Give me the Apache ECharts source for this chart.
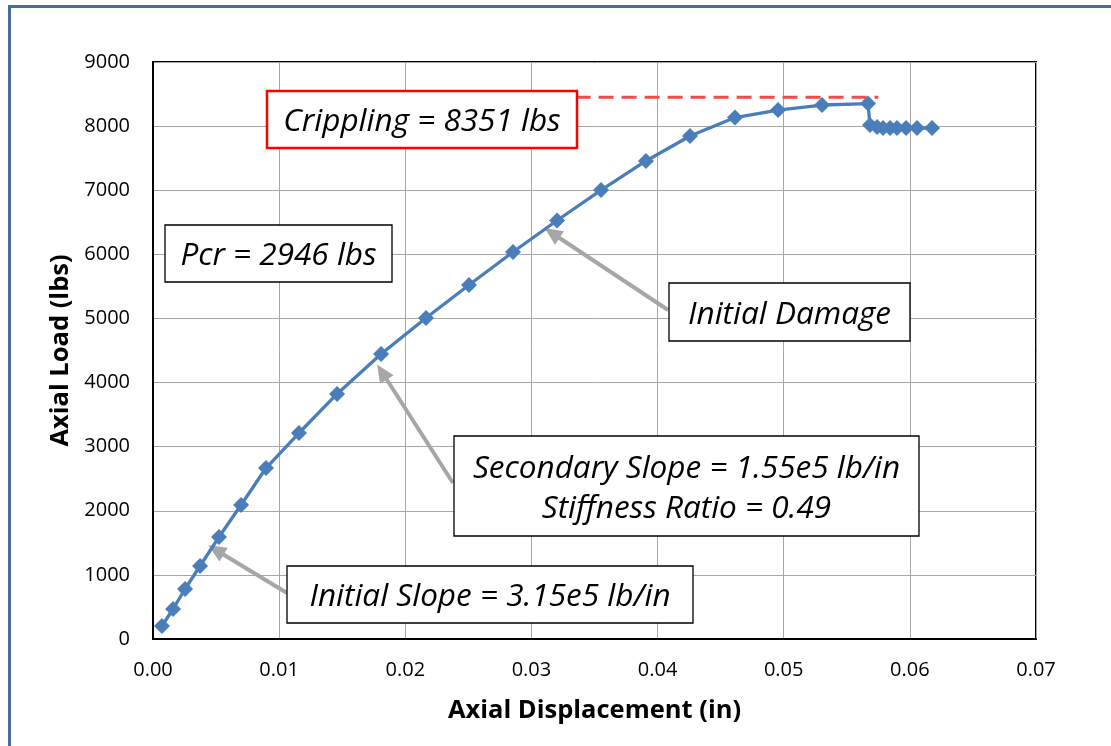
<!DOCTYPE html>
<html>
<head>
<meta charset="utf-8">
<script src="https://cdn.jsdelivr.net/npm/echarts@6/dist/echarts.min.js"></script>
<style>html,body{margin:0;padding:0;background:#fff}#c{width:1111px;height:746px}</style>
</head>
<body>
<div id="c"></div>
<script>
// Data
const dispIn = [0.00071,0.00159,0.00254,0.00373,0.00523,0.00698,0.00896,0.01157,0.01459,0.01808,0.02164,0.02505,0.02854,0.03203,0.03552,0.03908,0.04257,0.04614,0.04955,0.05304,0.05668,0.05684,0.05740,0.05787,0.05843,0.05898,0.05970,0.06057,0.06176];
const loadLbs = [203,468,780,1139,1591,2090,2667,3213,3822,4445,5007,5522,6036,6528,7003,7456,7846,8134,8251,8329,8351,8017,7986,7970,7970,7970,7970,7970,7970];
const cripplingLineX = [0.0335,0.0575];
const cripplingLineY = 8450;
const xTicks = ['0.00','0.01','0.02','0.03','0.04','0.05','0.06','0.07'];
const yTicks = ['0','1000','2000','3000','4000','5000','6000','7000','8000','9000'];
// annotation arrows [from, to] in data units
const arrows = [
  [[0.04083,5132],[0.03163,6333]],
  [[0.02378,2433],[0.01815,4165]],
  [[0.01062,717],[0.00499,1388]]
];

const chart = echarts.init(document.getElementById('c'));
const FONT = '"Open Sans", Lato, sans-serif';
const boxFont = 'italic 31.5px ' + FONT;

function box(x, y, w, h, lines, stroke, lw) {
  const els = [{
    type: 'rect', z: 100,
    shape: {x: x, y: y, width: w, height: h},
    style: {fill: '#fff', stroke: stroke, lineWidth: lw}
  }];
  const lh = 40;
  lines.forEach((t, i) => {
    els.push({
      type: 'text', z: 101,
      style: {
        text: t, x: x + w / 2, y: y + h / 2 + 3 + (i - (lines.length - 1) / 2) * lh,
        align: 'center', verticalAlign: 'middle', font: boxFont, fill: '#000'
      }
    });
  });
  return els;
}

const graphics = [].concat(
  [{type: 'rect', z: 0, silent: true, shape: {x: 9.5, y: 6.5, width: 1300, height: 900},
    style: {fill: 'none', stroke: '#4A6B98', lineWidth: 3}}],
  box(267, 91, 310, 57, ['Crippling = 8351 lbs'], '#FF0000', 2.5),
  box(165, 225, 227, 57, ['Pcr = 2946 lbs'], '#000', 1.3),
  box(669, 283, 241, 58, ['Initial Damage'], '#000', 1.3),
  box(454, 436, 465, 100, ['Secondary Slope = 1.55e5 lb/in', 'Stiffness Ratio = 0.49'], '#000', 1.3),
  box(287, 566, 406, 57, ['Initial Slope = 3.15e5 lb/in'], '#000', 1.3)
);

chart.setOption({
  animation: false,
  textStyle: {fontFamily: FONT},
  grid: {left: 153, top: 62, right: 75, bottom: 107, show: true, borderColor: '#000', borderWidth: 2, containLabel: false},
  xAxis: {
    type: 'value', min: 0, max: 0.07, interval: 0.01,
    name: 'Axial Displacement (in)', nameLocation: 'middle', nameGap: 59,
    nameTextStyle: {fontSize: 25.5, fontWeight: 'bold', color: '#000', fontFamily: FONT},
    axisLine: {show: true, lineStyle: {color: '#000', width: 2}},
    axisTick: {show: false},
    axisLabel: {fontSize: 20, color: '#000', margin: 21, fontFamily: FONT,
      formatter: v => xTicks[Math.round(v * 100)]},
    splitLine: {show: true, lineStyle: {color: '#A6A6A6', width: 1}}
  },
  yAxis: {
    type: 'value', min: 0, max: 9000, interval: 1000,
    name: 'Axial Load (lbs)', nameLocation: 'middle', nameGap: 76,
    nameTextStyle: {fontSize: 25.5, fontWeight: 'bold', color: '#000', fontFamily: FONT},
    axisLine: {show: true, lineStyle: {color: '#000', width: 2}},
    axisTick: {show: false},
    axisLabel: {fontSize: 20, color: '#000', margin: 23, fontFamily: FONT,
      formatter: v => yTicks[Math.round(v / 1000)]},
    splitLine: {show: true, lineStyle: {color: '#A6A6A6', width: 1}}
  },
  series: [
    {
      type: 'line', z: 3,
      data: cripplingLineX.map(x => [x, cripplingLineY]),
      symbol: 'none',
      lineStyle: {color: '#F24A4A', width: 3, type: [15, 8]}
    },
    {
      type: 'line', z: 5,
      data: dispIn.map((x, i) => [x, loadLbs[i]]),
      symbol: 'diamond', symbolSize: 16,
      itemStyle: {color: '#4A7EBB'},
      lineStyle: {color: '#4A7EBB', width: 3.3}
    },
    {
      type: 'line', z: 4, data: [], symbol: 'none',
      markLine: {
        silent: true, animation: false,
        symbol: ['none', 'triangle'], symbolSize: [16, 18],
        label: {show: false},
        lineStyle: {color: '#A6A6A6', width: 4, type: 'solid'},
        data: arrows.map(a => [{coord: a[0]}, {coord: a[1]}])
      }
    }
  ],
  graphic: graphics
});
</script>
</body>
</html>
